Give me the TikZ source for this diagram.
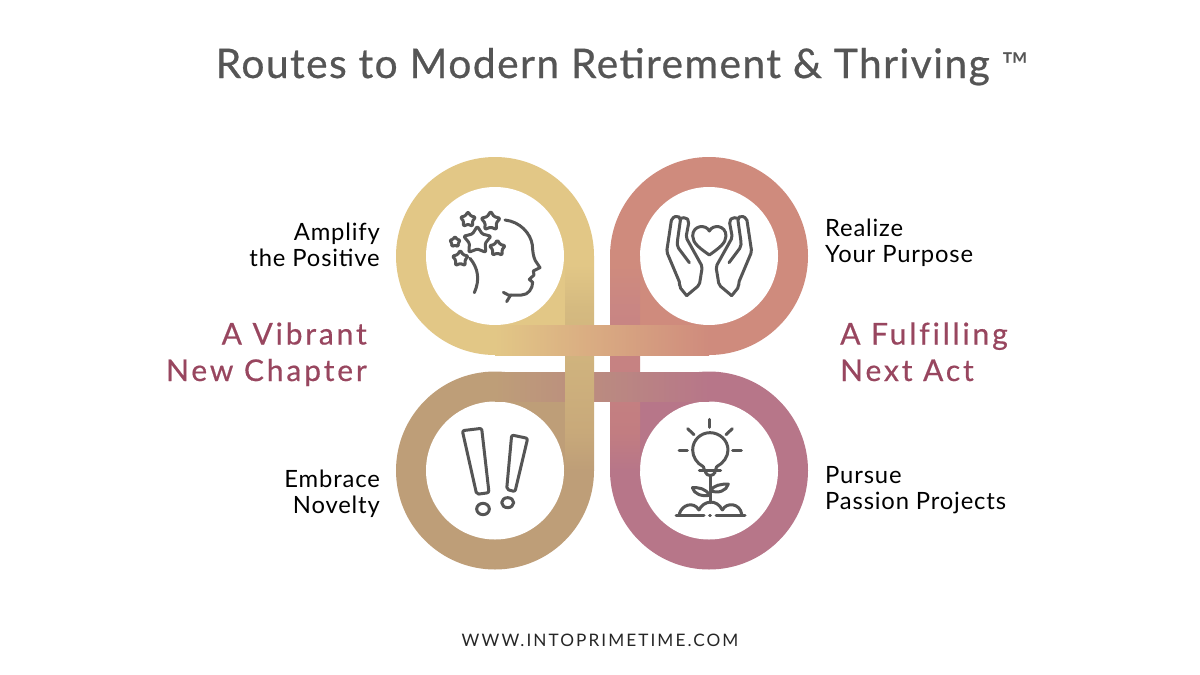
\documentclass[tikz,border=0pt]{standalone}
\usepackage{fontspec}
\setmainfont{Lato}
\newfontfamily\titlefont[LetterSpace=3.5,FakeBold=0.6]{Lato}
\newfontfamily\tmfont{Lato}
\newfontfamily\lblfont[LetterSpace=3.5]{Lato}
\newfontfamily\subfont[LetterSpace=9.5,FakeBold=0.5,Ligatures=NoCommon]{Lato}
\newfontfamily\webfont[LetterSpace=12]{Lato}
\definecolor{cTL}{HTML}{E2C786}
\definecolor{cTR}{HTML}{CF8B7D}
\definecolor{cBL}{HTML}{BE9E78}
\definecolor{cBR}{HTML}{B77689}
\definecolor{cLvA}{HTML}{D5BA80}
\definecolor{cLvB}{HTML}{C8A97A}
\definecolor{cRvA}{HTML}{C98683}
\definecolor{cRvB}{HTML}{C27D81}
\definecolor{cTm}{HTML}{D9AA84}
\definecolor{cBm}{HTML}{B9897C}
\definecolor{ink}{HTML}{555555}
\definecolor{plum}{HTML}{98465F}
\pgfdeclareverticalshading{leftv}{100bp}{color(0bp)=(cBL); color(25bp)=(cBL); color(34bp)=(cLvB); color(63bp)=(cLvA); color(73bp)=(cTL); color(100bp)=(cTL)}
\pgfdeclareverticalshading{rightv}{100bp}{color(0bp)=(cBR); color(25bp)=(cBR); color(34bp)=(cRvB); color(63bp)=(cRvA); color(73bp)=(cTR); color(100bp)=(cTR)}
\tikzset{
  iconline/.style={draw=ink,line width=3pt,line cap=round,line join=round},
  izoom/.style={x=0.33333pt,y=-0.33333pt},
  lbl/.style={font=\lblfont\fontsize{23.8}{26}\selectfont,text=black,inner sep=0pt},
  sublbl/.style={font=\subfont\fontsize{30}{36.5}\selectfont,text=plum,inner sep=0pt},
}
\newcommand{\starpath}[3]{%
  \draw[iconline,shift={(#1,#2)},rounded corners=1.2pt]
    (270:#3) -- (306:{0.58*#3}) -- (342:#3) -- (18:{0.58*#3}) -- (54:#3)
    -- (90:{0.58*#3}) -- (126:#3) -- (162:{0.58*#3}) -- (198:#3) -- (234:{0.58*#3}) -- cycle;}
\newcommand{\handpath}{%
  \draw[iconline,rounded corners=2pt]
    (260,437) -- (238,410) -- (240,400) -- (200,305) -- (215,205) -- (232,197) -- (242,205)
    -- (232,275) -- (232,290) -- (268,338);
  \draw[iconline,rounded corners=2pt]
    (242,205) -- (258,202) -- (267,214) -- (258,262) -- (307,350) -- (298,405) -- (260,437);}
\begin{document}
\begin{tikzpicture}[x=1pt,y=-1pt]
\useasboundingbox (0,0) rectangle (1200,675);
\fill[white] (0,0) rectangle (1200,675);
% four loops
\fill[cTL] (495,256) circle[radius=99]; \fill[cTL] (495,256) rectangle (594,355);
\fill[cTR] (709,256) circle[radius=99]; \fill[cTR] (610,256) rectangle (709,355);
\fill[cBL] (495,470.5) circle[radius=99]; \fill[cBL] (495,372) rectangle (594,470.5);
\fill[cBR] (709,470.5) circle[radius=99]; \fill[cBR] (610,372) rectangle (709,470.5);
\fill[white] (495,256) circle[radius=69];
\fill[white] (709,256) circle[radius=69];
\fill[white] (495,470.5) circle[radius=69];
\fill[white] (709,470.5) circle[radius=69];
% woven strips
\shade[shading=rightv] (610,256) rectangle (640,470.5);
\shade[left color=cBL,middle color=cBm,right color=cBR] (495,372) rectangle (709,401.5);
\shade[shading=leftv] (565,256) rectangle (594,470.5);
\shade[left color=cTL,middle color=cTm,right color=cTR] (495,325.5) rectangle (709,355);
% head icon
\begin{scope}[shift={(390,150)},izoom]
  \draw[iconline] (345,210) .. controls (390,215) and (422,250) .. (427,285)
    .. controls (428,305) and (430,320) .. (436,332) -- (450,353) -- (430,363) -- (432,375) -- (418,388) -- (428,397)
    .. controls (428,415) and (415,435) .. (395,435) -- (355,435) -- (340,427);
  \draw[iconline] (362,435) -- (350,455);
  \draw[iconline] (240,325) .. controls (265,355) and (270,390) .. (253,428);
  \starpath{262}{272}{43}
  \starpath{302}{214}{30}
  \starpath{234}{209}{24}
  \starpath{195}{276}{17}
  \starpath{322}{295}{25}
  \starpath{211}{326}{25}
\end{scope}
% hands icon
\begin{scope}[shift={(600,150)},izoom]
  \handpath
  \begin{scope}[shift={(655,0)},xscale=-1]
    \handpath
  \end{scope}
  \draw[iconline] (328,315) .. controls (300,295) and (278,280) .. (278,258)
    .. controls (278,225) and (318,222) .. (328,243)
    .. controls (338,222) and (378,225) .. (378,258)
    .. controls (378,280) and (356,295) .. (328,315) -- cycle;
\end{scope}
% exclamation icon
\begin{scope}[shift={(390,360)},izoom]
  \draw[iconline,rounded corners=2pt] (217,212) -- (275,205) -- (297,398) -- (260,403) -- cycle;
  \draw[iconline] (279,447) ellipse[x radius=19,y radius=17];
  \draw[iconline,rounded corners=2pt] (365,225) -- (413,235) -- (375,395) -- (350,388) -- cycle;
  \draw[iconline] (353,428) ellipse[x radius=18,y radius=15];
\end{scope}
% bulb icon
\begin{scope}[shift={(600,360)},izoom]
  \draw[iconline] (310,320) .. controls (290,310) and (278,290) .. (278,270)
    .. controls (278,240) and (302,218) .. (330,218)
    .. controls (358,218) and (384,240) .. (384,270)
    .. controls (384,290) and (370,310) .. (350,320);
  \draw[iconline] (298,332) -- (362,332);
  \draw[iconline] (316,336) .. controls (320,350) and (340,350) .. (346,336);
  \draw[iconline] (310,320) -- (314,332);
  \draw[iconline] (350,320) -- (346,332);
  \draw[iconline] (328,178) -- (328,202);
  \draw[iconline] (263,206) -- (282,224);
  \draw[iconline] (397,206) -- (378,224);
  \draw[iconline] (237,271) -- (262,271);
  \draw[iconline] (398,271) -- (424,271);
  \draw[iconline] (330,350) -- (330,428);
  \draw[iconline] (332,392) .. controls (340,375) and (365,372) .. (385,372)
    .. controls (380,392) and (355,402) .. (332,392);
  \draw[iconline] (328,406) .. controls (318,385) and (295,382) .. (277,383)
    .. controls (282,402) and (305,410) .. (328,406);
  \draw[iconline] (228,465) -- (312,465);
  \draw[iconline] (329,465) -- (331,465);
  \draw[iconline] (348,465) -- (435,465);
  \draw[iconline] (238,462) .. controls (245,435) and (280,422) .. (297,450);
  \draw[iconline] (297,450) .. controls (310,422) and (350,415) .. (367,450);
  \draw[iconline] (367,450) .. controls (380,425) and (420,430) .. (425,462);
\end{scope}
% text
\node (title) [anchor=base west,inner sep=0pt,text=ink,font=\titlefont\fontsize{40.8}{44}\selectfont] at (215.5,78) {Routes to Modern Retirement \& Thriving\hspace{12pt}{\tmfont\fontsize{36}{44}\selectfont ™}};
\node (amplify) [lbl,anchor=base east,align=right] at (380,266.5) {Amplify\\the Positive};
\node (realize) [lbl,anchor=base west,align=left] at (825,262.5) {Realize\\Your Purpose};
\node (embrace) [lbl,anchor=base east,align=right] at (380,513.5) {Embrace\\Novelty};
\node (pursue) [lbl,anchor=base west,align=left] at (825,509.5) {Pursue\\Passion Projects};
\node (vibrant) [sublbl,anchor=base east,align=right] at (367,381) {A Vibrant\\New Chapter};
\node (fulfilling) [sublbl,anchor=base west,align=left] at (840,381) {A Fulfilling\\Next Act};
\node (web) [anchor=base,inner sep=0pt,text=black!85,font=\webfont\fontsize{17.2}{20}\selectfont] at (600,646) {WWW.INTOPRIMETIME.COM};
\end{tikzpicture}
\end{document}
